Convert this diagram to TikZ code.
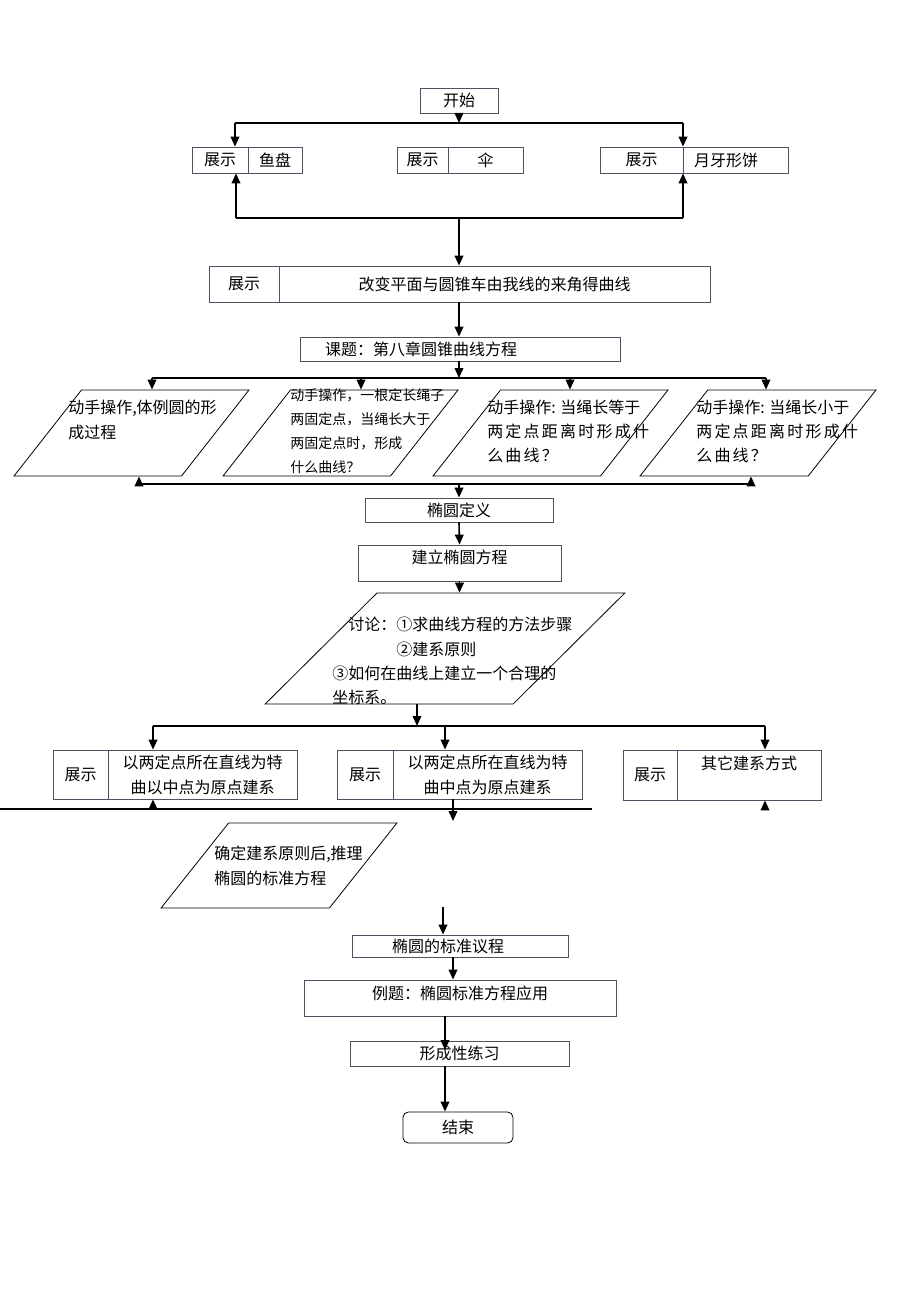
\documentclass[tikz,border=0pt]{standalone}
\usepackage{fontspec}
\setmainfont{Noto Sans CJK SC}
\newfontfamily\widecjk[LetterSpace=14]{Noto Sans CJK SC}
\usetikzlibrary{arrows.meta,shapes.geometric}
\definecolor{boxline}{RGB}{88,76,96}
\tikzset{
  box/.style={draw=boxline, line width=0.6pt, inner sep=0pt, align=center, font=\fontsize{12}{18.75}\selectfont},
  para/.style={draw=black, line width=0.6pt, trapezium, trapezium stretches=true, inner sep=2pt},
  txt/.style={inner sep=0pt, align=left, anchor=north west, font=\fontsize{12}{18.75}\selectfont},
  arr/.style={line width=1.2pt, -{Triangle[length=7.5pt,width=6.5pt]}},
  lin/.style={line width=1.2pt},
}
\begin{document}
\begin{tikzpicture}[x=0.75pt,y=0.75pt,yscale=-1,xscale=1]
\useasboundingbox (0,0) rectangle (920,1302);

% Start
\node (start) [box, minimum width=78*0.75pt, minimum height=25*0.75pt] at (459,100.5) {开始};

% Shape: show boxes, top row
\node (s1a) [box, minimum width=56*0.75pt, minimum height=26*0.75pt] at (220,160) {展示};
\node (s1b) [box, minimum width=54*0.75pt, minimum height=26*0.75pt] at (275,160) {鱼盘};
\node (s2a) [box, minimum width=51*0.75pt, minimum height=26*0.75pt] at (422.5,160) {展示};
\node (s2b) [box, minimum width=75*0.75pt, minimum height=26*0.75pt] at (485.5,160) {伞};
\node (s3a) [box, minimum width=83*0.75pt, minimum height=26*0.75pt] at (641.5,160) {展示};
\node (s3b) [box, minimum height=26*0.75pt, text width=83*0.75pt, inner xsep=11*0.75pt, align=left] at (735.5,160) {月牙形饼};

% Shape: change the plane
\node (chga) [box, minimum width=70*0.75pt, minimum height=36*0.75pt] at (244,284) {展示};
\node (chgb) [box, minimum width=431*0.75pt, minimum height=36*0.75pt] at (494.5,284) {改变平面与圆锥车由我线的来角得曲线};

% Shape: topic
\node (topic) [box, minimum height=24*0.75pt, text width=270*0.75pt, inner xsep=25*0.75pt, align=left] at (460,349) {课题：第八章圆锥曲线方程};

% Shape: four hands-on parallelograms
\node (p1) [para, trapezium left angle=56, trapezium right angle=124, minimum width=235*0.75pt, minimum height=86*0.75pt] at (131.5,433) {};
\node (p2) [para, trapezium left angle=56, trapezium right angle=124, minimum width=235*0.75pt, minimum height=86*0.75pt] at (340.5,433) {};
\node (p3) [para, trapezium left angle=56, trapezium right angle=124, minimum width=235*0.75pt, minimum height=86*0.75pt] at (550.5,433) {};
\node (p4) [para, trapezium left angle=56, trapezium right angle=124, minimum width=236*0.75pt, minimum height=86*0.75pt] at (758,433) {};
% Text Node
\node (t1) [txt] at (68,400) {动手操作,体例圆的形\\成过程};
\node (t2) [txt, font=\fontsize{10.5}{18.2}\selectfont] at (290,388) {动手操作，一根定长绳子\\两固定点，当绳长大于\\两固定点时，形成\\什么曲线？};
\node (t3) [txt, font=\fontsize{12}{18}\selectfont] at (487,400) {动手操作: 当绳长等于\\{\widecjk 两定点距离时形成什}\\{\widecjk 么曲线？}};
\node (t4) [txt, font=\fontsize{12}{18}\selectfont] at (696,400) {动手操作: 当绳长小于\\{\widecjk 两定点距离时形成什}\\{\widecjk 么曲线？}};

% Shape: definition and equation
\node (def) [box, minimum width=188*0.75pt, minimum height=24*0.75pt] at (459,510) {椭圆定义};
\node (build) [box, minimum width=203*0.75pt, minimum height=36*0.75pt, text height=8pt, text depth=8pt] at (459.5,563) {建立椭圆方程};

% Shape: discussion
\node (disc) [para, trapezium left angle=50.6, trapezium right angle=129.4, minimum width=360*0.75pt, minimum height=111*0.75pt] at (445,648.5) {};
\node (tdisc) [txt, font=\fontsize{12}{18.25}\selectfont] at (332,617) {\hspace*{1em}讨论：①求曲线方程的方法步骤\\\hspace*{4em}②建系原则\\③如何在曲线上建立一个合理的\\坐标系。};

% Shape: three ways to set up axes
\node (sa1) [box, minimum width=55*0.75pt, minimum height=49*0.75pt] at (80.5,774.5) {展示};
\node (sa2) [box, minimum width=189*0.75pt, minimum height=49*0.75pt] at (202.5,774.5) {以两定点所在直线为特\\曲以中点为原点建系};
\node (sb1) [box, minimum width=56*0.75pt, minimum height=49*0.75pt] at (365,774.5) {展示};
\node (sb2) [box, minimum width=189*0.75pt, minimum height=49*0.75pt] at (487.5,774.5) {以两定点所在直线为特\\曲中点为原点建系};
\node (sc1) [box, minimum width=54*0.75pt, minimum height=50*0.75pt] at (650,775) {展示};
\node (sc2) [box, minimum width=144*0.75pt, minimum height=50*0.75pt, text height=6pt, text depth=15pt] at (749,775) {其它建系方式};

% Shape: derive
\node (der) [para, trapezium left angle=56.2, trapezium right angle=123.8, minimum width=236*0.75pt, minimum height=85*0.75pt] at (279,865.5) {};
\node (tder) [txt] at (214,846) {确定建系原则后,推理\\椭圆的标准方程};

% Shape: lower chain
\node (std) [box, minimum height=22*0.75pt, text width=136*0.75pt, inner xsep=40*0.75pt, align=left] at (460,946) {椭圆的标准议程};
\node (ex) [box, minimum width=312*0.75pt, minimum height=36*0.75pt, text height=8pt, text depth=6.5pt] at (460,998) {例题：椭圆标准方程应用};
\node (prac) [box, minimum width=219*0.75pt, minimum height=25*0.75pt] at (459.5,1053.5) {形成性练习};
\node (fin) [box, draw=black, rounded corners=4pt, minimum width=110*0.75pt, minimum height=31*0.75pt] at (458,1127.5) {结束};

% Connection
\coordinate (b1l) at (235,123);
\coordinate (b1r) at (683,123);
\draw[lin] (b1l) -- (b1r);
\draw[arr] (start.south) -- (start.south |- b1l);
\draw[arr] (b1l) -- (b1l |- s1a.north);
\draw[arr] (b1r) -- (b1r |- s3a.north);

\coordinate (b2l) at (236,218);
\coordinate (b2r) at (683,218);
\coordinate (b2m) at (459,218);
\draw[lin] (b2l) -- (b2r);
\draw[arr] (b2l) -- (b2l |- s1a.south);
\draw[arr] (b2r) -- (b2r |- s3a.south);
\draw[arr] (b2m) -- (b2m |- chgb.north);
\draw[arr] (b2m |- chgb.south) -- (b2m |- topic.north);

\coordinate (b3l) at (152,378);
\coordinate (b3r) at (766,378);
\draw[lin] (b3l) -- (b3r);
\draw[arr] (b2m |- topic.south) -- (b2m |- b3l);
\foreach \x/\p in {152/p1,361/p2,570/p3,766/p4}{
  \coordinate (a\p) at (\x,378);
  \draw[arr] (a\p) -- (a\p |- \p.north);
}

\coordinate (b4l) at (139,484);
\coordinate (b4r) at (751,484);
\coordinate (b4m) at (459,484);
\draw[lin] (b4l) -- (b4r);
\draw[arr] (b4l) -- (b4l |- p1.south);
\draw[arr] (b4r) -- (b4r |- p4.south);
\draw[arr] (b4m) -- (def.north);
\draw[arr] (def.south) -- (build.north);
\draw[arr] (build.south) -- (build.south |- disc.north);

\coordinate (b5m) at (417,726);
\coordinate (b5l) at (153,726);
\coordinate (b5c) at (445,726);
\coordinate (b5r) at (765,726);
\draw[lin] (b5l) -- (b5r);
\draw[arr] (b5m |- disc.south) -- (b5m);
\draw[arr] (b5l) -- (b5l |- sa2.north);
\draw[arr] (b5c) -- (b5c |- sb2.north);
\draw[arr] (b5r) -- (b5r |- sc2.north);

\coordinate (b6l) at (0,809);
\coordinate (b6r) at (592,809);
\coordinate (b6a) at (153,809);
\coordinate (b6b) at (453,821);
\coordinate (b6c) at (765,810);
\draw[line width=0.9pt] (b6l) -- (b6r);
\draw[arr] (b6a) -- (b6a |- sa2.south);
\draw[arr] (b6b |- sb2.south) -- (b6b);
\draw[arr] (b6c) -- (b6c |- sc2.south);

\coordinate (c1) at (443,907);
\coordinate (c2) at (453,970);
\coordinate (c3) at (445,1050);
\draw[arr] (c1) -- (c1 |- std.north);
\draw[arr] (c2 |- std.south) -- (c2 |- ex.north);
\draw[arr] (c3 |- ex.south) -- (c3);
\draw[arr] (c3 |- prac.south) -- (c3 |- fin.north);

\end{tikzpicture}
\end{document}
